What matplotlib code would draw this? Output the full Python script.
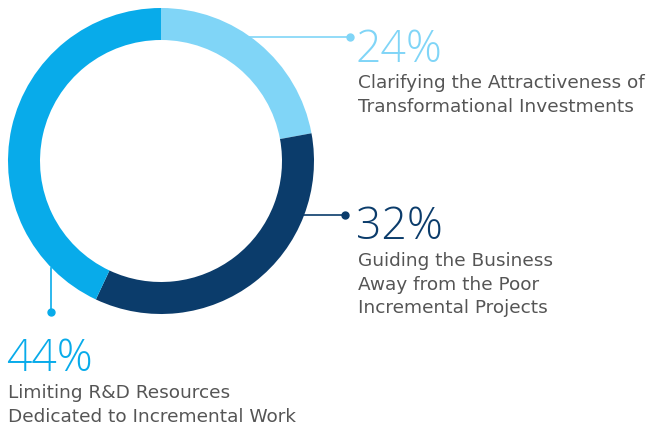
import matplotlib.pyplot as plt

# Data
pct_labels = [24, 32, 44]
# arc sizes as drawn in the source picture (it is not drawn exactly to 24/32/44)
arc_shares = [22.1, 34.9, 43.0]
labels = [["Clarifying the Attractiveness of", "Transformational Investments"],
          ["Guiding the Business", "Away from the Poor", "Incremental Projects"],
          ["Limiting R&D Resources", "Dedicated to Incremental Work"]]
colors = ["#80d5f7", "#0b3c6b", "#08abea"]
grey = "#555555"

plt.rcParams['font.family'] = ['Open Sans', 'DejaVu Sans']

fig = plt.figure(figsize=(6.47, 4.27), dpi=100)
ax = fig.add_axes([0, 0, 1, 1])

# y axis runs downward (pixel-like), so ccw from 270 in data = clockwise from top on screen
cx, cy, r, w = 161, 162, 153, 32
ax.pie(arc_shares, colors=colors, startangle=270, counterclock=True,
       center=(cx, cy), radius=r, wedgeprops=dict(width=w, linewidth=0),
       frame=True)
ax.set_xlim(0, 647)
ax.set_ylim(427, 0)
ax.set_aspect('equal')
ax.axis('off')

# leader lines (start on ring edge, end with a dot)
leaders = [((249, 38), (350, 38)),
           ((304, 216), (345, 216)),
           ((51, 269), (51, 313))]
for (p0, p1), c in zip(leaders, colors):
    ax.plot([p0[0], p1[0]], [p0[1], p1[1]], color=c, lw=1.2)
    ax.plot(p1[0], p1[1], 'o', color=c, ms=5)

# text blocks: percent baseline, first label baseline
pct_pos = [(356, 62), (356, 239), (6, 371)]
lab_pos = [(358, 88), (358, 266), (8, 398)]
for s, lines, c, pp, lp in zip(pct_labels, labels, colors, pct_pos, lab_pos):
    ax.text(pp[0], pp[1], f"{s}%", color=c, fontsize=32, fontweight='light',
            va='baseline', ha='left')
    for i, line in enumerate(lines):
        ax.text(lp[0], lp[1] + i * 23.7, line, color=grey, fontsize=13.3,
                family='DejaVu Sans', va='baseline', ha='left')

fig.savefig("out.png", dpi=100)
